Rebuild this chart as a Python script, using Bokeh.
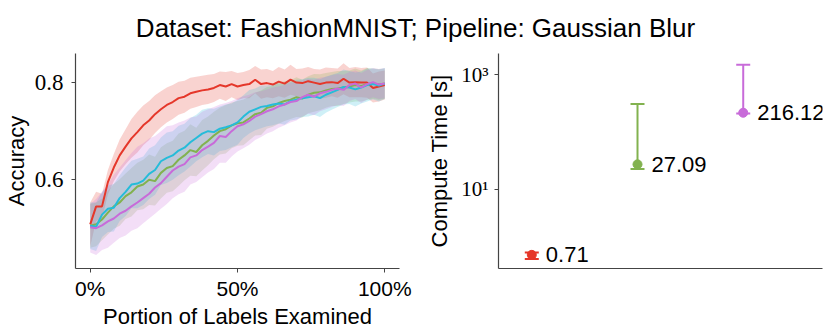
from bokeh.plotting import figure
from bokeh.layouts import column, row
from bokeh.models import Range1d, FixedTicker, Label, LabelSet, Whisker, TeeHead, ColumnDataSource
from bokeh.core.properties import value
from bokeh.embed import file_html
from bokeh.resources import INLINE

SANS = "Liberation Sans"
SERIF = "Liberation Serif"
AXC = "#444444"

TITLE = "Dataset: FashionMNIST; Pipeline: Gaussian Blur"

# ---------------- left panel data ----------------
portion = [0, 2, 4, 6, 8, 10, 12, 14, 16, 18,
           20, 22, 24, 26, 28, 30, 32, 34, 36, 38,
           40, 42, 44, 46, 48, 50, 52, 54, 56, 58,
           60, 62, 64, 66, 68, 70, 72, 74, 76, 78,
           80, 82, 84, 86, 88, 90, 92, 94, 96, 98,
           100]

red_mean = [0.508, 0.545, 0.545, 0.595, 0.625, 0.650, 0.668, 0.685, 0.698, 0.712,
            0.722, 0.735, 0.745, 0.754, 0.760, 0.768, 0.771, 0.778, 0.781, 0.784,
            0.786, 0.789, 0.795, 0.792, 0.797, 0.792, 0.795, 0.797, 0.806, 0.797,
            0.799, 0.796, 0.802, 0.798, 0.806, 0.800, 0.799, 0.803, 0.800, 0.797,
            0.800, 0.801, 0.799, 0.808, 0.800, 0.801, 0.800, 0.800, 0.789, 0.792,
            0.795]
red_std = [0.045, 0.030, 0.026, 0.025, 0.028, 0.033, 0.036, 0.040, 0.042, 0.041,
           0.040, 0.039, 0.037, 0.036, 0.035, 0.034, 0.033, 0.032, 0.031, 0.030,
           0.030, 0.029, 0.028, 0.030, 0.027, 0.028, 0.027, 0.029, 0.028, 0.030,
           0.029, 0.028, 0.030, 0.029, 0.031, 0.028, 0.030, 0.029, 0.028, 0.030,
           0.031, 0.029, 0.030, 0.032, 0.030, 0.031, 0.030, 0.031, 0.030, 0.031,
           0.030]

green_mean = [0.505, 0.508, 0.518, 0.532, 0.545, 0.553, 0.566, 0.574, 0.586, 0.590,
              0.600, 0.597, 0.614, 0.624, 0.628, 0.641, 0.650, 0.661, 0.657, 0.671,
              0.680, 0.691, 0.700, 0.704, 0.712, 0.716, 0.718, 0.726, 0.735, 0.738,
              0.748, 0.751, 0.758, 0.762, 0.765, 0.770, 0.767, 0.775, 0.779, 0.780,
              0.784, 0.787, 0.788, 0.790, 0.792, 0.795, 0.793, 0.797, 0.798, 0.796,
              0.798]
green_std = [0.045, 0.045, 0.043, 0.045, 0.046, 0.048, 0.047, 0.050, 0.049, 0.051,
             0.052, 0.050, 0.053, 0.051, 0.052, 0.054, 0.051, 0.053, 0.050, 0.052,
             0.050, 0.049, 0.048, 0.050, 0.047, 0.046, 0.047, 0.045, 0.044, 0.046,
             0.043, 0.042, 0.043, 0.041, 0.040, 0.041, 0.039, 0.038, 0.039, 0.037,
             0.036, 0.035, 0.036, 0.034, 0.033, 0.034, 0.032, 0.033, 0.031, 0.032,
             0.031]

cyan_mean = [0.505, 0.503, 0.528, 0.540, 0.542, 0.562, 0.575, 0.590, 0.592, 0.598,
             0.612, 0.620, 0.638, 0.645, 0.650, 0.660, 0.666, 0.677, 0.686, 0.695,
             0.700, 0.698, 0.705, 0.708, 0.712, 0.718, 0.730, 0.740, 0.745, 0.750,
             0.752, 0.755, 0.757, 0.755, 0.762, 0.765, 0.768, 0.770, 0.772, 0.768,
             0.775, 0.780, 0.785, 0.791, 0.790, 0.786, 0.790, 0.795, 0.797, 0.794,
             0.798]
cyan_std = [0.048, 0.050, 0.046, 0.048, 0.049, 0.047, 0.050, 0.049, 0.051, 0.050,
            0.052, 0.051, 0.049, 0.052, 0.050, 0.051, 0.049, 0.050, 0.048, 0.049,
            0.047, 0.048, 0.046, 0.047, 0.045, 0.046, 0.044, 0.045, 0.043, 0.044,
            0.042, 0.043, 0.041, 0.042, 0.040, 0.041, 0.039, 0.040, 0.038, 0.039,
            0.037, 0.036, 0.035, 0.036, 0.034, 0.035, 0.033, 0.034, 0.032, 0.033,
            0.032]

purple_mean = [0.502, 0.500, 0.506, 0.514, 0.520, 0.530, 0.536, 0.545, 0.553, 0.562,
               0.571, 0.584, 0.593, 0.606, 0.619, 0.627, 0.632, 0.646, 0.650, 0.661,
               0.668, 0.676, 0.690, 0.688, 0.700, 0.710, 0.714, 0.721, 0.730, 0.735,
               0.741, 0.745, 0.751, 0.755, 0.760, 0.762, 0.770, 0.775, 0.771, 0.778,
               0.781, 0.785, 0.788, 0.785, 0.795, 0.798, 0.790, 0.797, 0.801, 0.796,
               0.798]
purple_lower = [0.450, 0.445, 0.455, 0.460, 0.470, 0.480, 0.485, 0.495, 0.500, 0.510,
                0.520, 0.530, 0.540, 0.550, 0.562, 0.570, 0.575, 0.590, 0.595, 0.605,
                0.615, 0.622, 0.635, 0.635, 0.648, 0.658, 0.665, 0.672, 0.682, 0.688,
                0.695, 0.700, 0.707, 0.712, 0.718, 0.722, 0.730, 0.736, 0.733, 0.741,
                0.745, 0.750, 0.754, 0.752, 0.762, 0.766, 0.758, 0.765, 0.770, 0.766,
                0.768]
purple_upper = [0.550, 0.560, 0.575, 0.590, 0.610, 0.625, 0.640, 0.655, 0.668, 0.675,
                0.685, 0.690, 0.700, 0.710, 0.712, 0.718, 0.722, 0.728, 0.730, 0.740,
                0.745, 0.750, 0.755, 0.758, 0.762, 0.768, 0.772, 0.775, 0.780, 0.782,
                0.786, 0.790, 0.792, 0.795, 0.800, 0.800, 0.805, 0.808, 0.806, 0.810,
                0.812, 0.815, 0.818, 0.816, 0.822, 0.825, 0.820, 0.826, 0.830, 0.828,
                0.830]

x_ticks = [0, 50, 100]
x_tick_labels = ["0%", "50%", "100%"]
y_ticks = [0.6, 0.8]
y_tick_labels = ["0.6", "0.8"]

# ---------------- right panel data ----------------
method_pos = [0, 1, 2]
compute_time = [0.71, 27.09, 216.12]
time_lower = [0.60, 22.4, 209.0]
time_upper = [0.78, 306.0, 1496.0]
log_ticks = [10, 1000]
log_tick_labels = ["10\u00b9", "10\u00b3"]

RED = "#e5372a"
GREEN = "#82b24f"
CYAN = "#25bcd9"
PURPLE = "#c86bd9"

bands = [
    ([m - s for m, s in zip(red_mean, red_std)], [m + s for m, s in zip(red_mean, red_std)], RED),
    ([m - s for m, s in zip(green_mean, green_std)], [m + s for m, s in zip(green_mean, green_std)], GREEN),
    ([m - s for m, s in zip(cyan_mean, cyan_std)], [m + s for m, s in zip(cyan_mean, cyan_std)], CYAN),
    (purple_lower, purple_upper, PURPLE),
]
lines = [(red_mean, RED), (green_mean, GREEN), (cyan_mean, CYAN), (purple_mean, PURPLE)]
time_colors = [RED, GREEN, PURPLE]


def style_axes(p):
    p.outline_line_color = None
    p.grid.visible = False
    p.background_fill_color = "white"
    p.border_fill_color = "white"
    for ax in p.axis:
        ax.axis_line_color = AXC
        ax.axis_line_width = 1.2
        ax.major_tick_line_color = AXC
        ax.major_tick_in = 0
        ax.major_tick_out = 4
        ax.minor_tick_line_color = None
        ax.axis_label_text_font = SANS
        ax.axis_label_text_font_style = "normal"
        ax.axis_label_text_font_size = "22px"
        ax.axis_label_text_color = "black"
        ax.major_label_text_color = "black"


# ---------------- title strip ----------------
tfig = figure(width=831, height=48, x_range=Range1d(0, 831), y_range=Range1d(0, 48),
              toolbar_location=None, output_backend="svg",
              x_axis_location=None, y_axis_location=None, min_border=0)
tfig.outline_line_color = None
tfig.grid.visible = False
tfig.add_layout(Label(x=415, y=21, text=TITLE, text_align="center",
                      text_baseline="alphabetic", text_font=SANS,
                      text_font_size="26px", text_color="black"))

# ---------------- left panel ----------------
p1 = figure(width=415, height=286, x_range=Range1d(-5, 105), y_range=Range1d(0.417, 0.86),
            toolbar_location=None, output_backend="svg",
            min_border_left=75, min_border_right=16, min_border_top=5, min_border_bottom=66)
for lo, hi, col in bands:
    p1.varea(x=portion, y1=lo, y2=hi, fill_color=col, fill_alpha=0.22)
for mean, col in lines:
    p1.line(x=portion, y=mean, line_color=col, line_width=2)

style_axes(p1)
p1.xaxis.ticker = FixedTicker(ticks=x_ticks)
p1.xaxis.major_label_overrides = {t: l for t, l in zip(x_ticks, x_tick_labels)}
p1.xaxis.major_label_text_font = SANS
p1.xaxis.major_label_text_font_size = "21px"
p1.xaxis.major_label_standoff = 4
p1.xaxis.axis_label = "Portion of Labels Examined"
p1.xaxis.axis_label_standoff = 1
p1.yaxis.ticker = FixedTicker(ticks=y_ticks)
p1.yaxis.major_label_overrides = {t: l for t, l in zip(y_ticks, y_tick_labels)}
p1.yaxis.major_label_text_font = SERIF
p1.yaxis.major_label_text_font_size = "23px"
p1.yaxis.major_label_standoff = 8
p1.yaxis.axis_label = "Accuracy"
p1.yaxis.axis_label_standoff = 3

# ---------------- right panel ----------------
p2 = figure(width=416, height=286, y_axis_type="log",
            x_range=Range1d(-0.315, 2.75), y_range=Range1d(0.41, 2344),
            toolbar_location=None, output_backend="svg",
            min_border_left=83, min_border_right=9, min_border_top=5, min_border_bottom=66)
for i in range(len(method_pos)):
    src = ColumnDataSource(dict(x=[method_pos[i]], y=[compute_time[i]],
                                lower=[time_lower[i]], upper=[time_upper[i]],
                                label=["%.2f" % compute_time[i]]))
    c = time_colors[i]
    p2.add_layout(Whisker(source=src, base="x", lower="lower", upper="upper",
                          dimension="height", line_color=c, line_width=2,
                          upper_head=TeeHead(size=14, line_color=c, line_width=2),
                          lower_head=TeeHead(size=14, line_color=c, line_width=2)))
    p2.scatter(x="x", y="y", source=src, size=9, fill_color=c, line_color=c)
    p2.add_layout(LabelSet(x="x", y="y", text="label", source=src, x_offset=14,
                           text_baseline="middle", text_align="left",
                           text_font=value(SANS), text_font_size="22px", text_color="black"))

style_axes(p2)
p2.xaxis.ticker = FixedTicker(ticks=[])
p2.xaxis.major_tick_line_color = None
p2.yaxis.ticker = FixedTicker(ticks=log_ticks)
p2.yaxis.major_label_overrides = {t: l for t, l in zip(log_ticks, log_tick_labels)}
p2.yaxis.major_label_text_font = SERIF
p2.yaxis.major_label_text_font_size = "21px"
p2.yaxis.major_label_standoff = 6
p2.yaxis.axis_label = "Compute Time [s]"
p2.yaxis.axis_label_standoff = 6

layout = column(tfig, row(p1, p2))
open("out.html", "w").write(file_html(layout, INLINE))
